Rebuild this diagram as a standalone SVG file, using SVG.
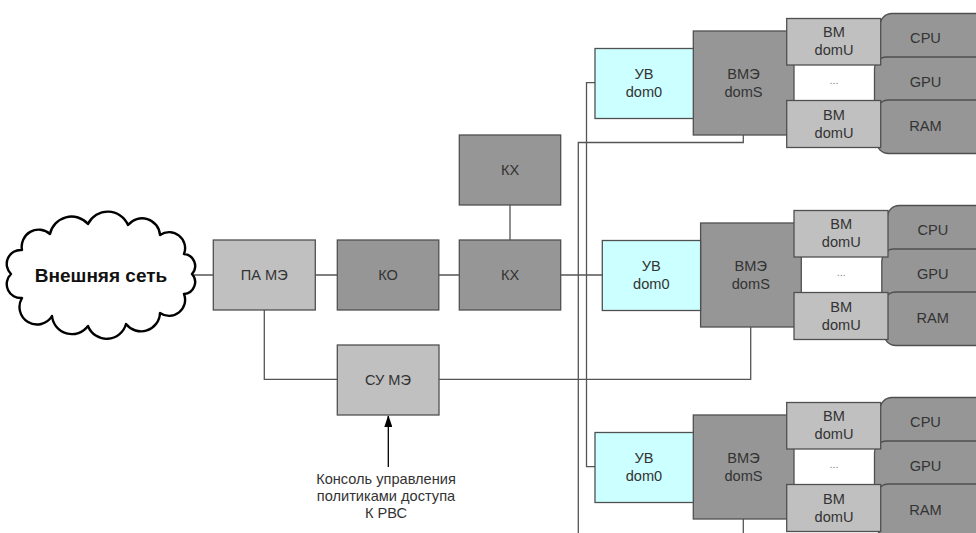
<svg xmlns="http://www.w3.org/2000/svg" width="976" height="533" viewBox="0 0 976 533">
<style>
text{font-family:"Liberation Sans",Arial,sans-serif;font-size:14.6px;fill:#333;text-anchor:middle}
.l{fill:#c0c0c0;stroke:#505050;stroke-width:1.3}
.d{fill:#969696;stroke:#505050;stroke-width:1.3}
.c{fill:#ccffff;stroke:#505050;stroke-width:1.3}
.w{fill:none;stroke:#555;stroke-width:1.3}
.dots{fill:#888;font-size:11px}
</style>
<defs>
<marker id="arr" markerWidth="12" markerHeight="8" refX="11" refY="4" orient="auto" markerUnits="userSpaceOnUse" viewBox="0 0 12 8">
<path d="M0,0 L12,4 L0,8 Z" fill="#000"/>
</marker>
</defs>
<rect width="976" height="533" fill="#fff"/>

<g id="connectors">
<path class="w" d="M190,275 H213 M315,275 H337 M439,275 H459 M510,205 V240 M561,275 H602.7"/>
<path class="w" d="M264.3,310 V379.3 H337 M439,379.3 H750.7 V327"/>
<path class="w" d="M595,82.7 H586.5 V466.7 H595"/>
<path class="w" d="M743.3,135 V142.5 H578.3 V533"/>
<path class="w" d="M743.3,519 V533"/>
<line x1="388.3" y1="467" x2="388.3" y2="416" stroke="#000" stroke-width="1.3" marker-end="url(#arr)"/>
</g>

<g id="cloud">
<path d="M11,274 A14,14 0 0 1 22,250 A17,17 0 0 1 50,234 A22,22 0 0 1 88,224 A22,22 0 0 1 128,225 A18,18 0 0 1 160,235 A16,16 0 0 1 184,254 A12,12 0 0 1 192,274 A12,12 0 0 1 184,294 A16,16 0 0 1 160,313 A19,19 0 0 1 126,324 A20,20 0 0 1 88,326 A20,20 0 0 1 52,316 A17,17 0 0 1 22,298 A14,14 0 0 1 11,274 Z" fill="#fff" stroke="#000" stroke-width="2.4" stroke-linejoin="round"/>
<text x="101" y="282" style="font-size:19px;font-weight:bold;fill:#111">Внешняя сеть</text>
</g>

<g id="pa"><rect class="l" x="213.3" y="240" width="102" height="70"/><text x="264.3" y="280">ПА МЭ</text></g>
<g id="ko"><rect class="d" x="337.3" y="240" width="101.5" height="70"/><text x="388" y="280">КО</text></g>
<g id="kx1"><rect class="d" x="459.3" y="135" width="101.4" height="70"/><text x="510" y="175">КХ</text></g>
<g id="kx2"><rect class="d" x="459.3" y="240" width="101.4" height="70"/><text x="510" y="280">КХ</text></g>
<g id="su"><rect class="l" x="337.3" y="345" width="101.7" height="70"/><text x="388" y="385">СУ МЭ</text></g>
<g id="console"><text x="386" y="484">Консоль управления</text><text x="386" y="501">политиками доступа</text><text x="386" y="518">К РВС</text></g>

<g id="host1">
<g id="h1-cpu"><rect class="d" x="880" y="13.5" width="110" height="60" rx="12"/><text x="925.5" y="43">CPU</text></g>
<g id="h1-gpu"><rect class="d" x="874.5" y="57" width="115" height="55" rx="12"/><text x="925.5" y="87">GPU</text></g>
<g id="h1-ram"><rect class="d" x="876.5" y="100" width="113" height="53.5" rx="12"/><text x="925.5" y="131">RAM</text></g>
<g id="h1-vme"><rect class="d" x="693.3" y="31" width="100.7" height="104"/><text x="743.5" y="78.5">ВМЭ</text><text x="743.5" y="96.7">domS</text></g>
<g id="h1-uv"><rect class="c" x="595" y="48.5" width="98.3" height="70"/><text x="644" y="78.5">УВ</text><text x="644" y="96.7">dom0</text></g>
<g id="h1-vm1"><rect class="l" x="786.7" y="18.5" width="94" height="46.5"/><text x="834" y="37.3">ВМ</text><text x="834" y="55">domU</text></g>
<g id="h1-dots"><text class="dots" x="834" y="84">...</text></g>
<g id="h1-vm2"><rect class="l" x="786.7" y="100.5" width="94" height="47"/><text x="834" y="120">ВМ</text><text x="834" y="137.5">domU</text></g>
</g>

<g id="host2" transform="translate(7.3,192)">
<g id="h2-cpu"><rect class="d" x="880" y="13.5" width="110" height="60" rx="12"/><text x="925.5" y="43">CPU</text></g>
<g id="h2-gpu"><rect class="d" x="874.5" y="57" width="115" height="55" rx="12"/><text x="925.5" y="87">GPU</text></g>
<g id="h2-ram"><rect class="d" x="876.5" y="100" width="113" height="53.5" rx="12"/><text x="925.5" y="131">RAM</text></g>
<g id="h2-vme"><rect class="d" x="693.3" y="31" width="100.7" height="104"/><text x="743.5" y="78.5">ВМЭ</text><text x="743.5" y="96.7">domS</text></g>
<g id="h2-uv"><rect class="c" x="595" y="48.5" width="98.3" height="70"/><text x="644" y="78.5">УВ</text><text x="644" y="96.7">dom0</text></g>
<g id="h2-vm1"><rect class="l" x="786.7" y="18.5" width="94" height="46.5"/><text x="834" y="37.3">ВМ</text><text x="834" y="55">domU</text></g>
<g id="h2-dots"><text class="dots" x="834" y="84">...</text></g>
<g id="h2-vm2"><rect class="l" x="786.7" y="100.5" width="94" height="47"/><text x="834" y="120">ВМ</text><text x="834" y="137.5">domU</text></g>
</g>

<g id="host3" transform="translate(0,384)">
<g id="h3-cpu"><rect class="d" x="880" y="13.5" width="110" height="60" rx="12"/><text x="925.5" y="43">CPU</text></g>
<g id="h3-gpu"><rect class="d" x="874.5" y="57" width="115" height="55" rx="12"/><text x="925.5" y="87">GPU</text></g>
<g id="h3-ram"><rect class="d" x="876.5" y="100" width="113" height="53.5" rx="12"/><text x="925.5" y="131">RAM</text></g>
<g id="h3-vme"><rect class="d" x="693.3" y="31" width="100.7" height="104"/><text x="743.5" y="78.5">ВМЭ</text><text x="743.5" y="96.7">domS</text></g>
<g id="h3-uv"><rect class="c" x="595" y="48.5" width="98.3" height="70"/><text x="644" y="78.5">УВ</text><text x="644" y="96.7">dom0</text></g>
<g id="h3-vm1"><rect class="l" x="786.7" y="18.5" width="94" height="46.5"/><text x="834" y="37.3">ВМ</text><text x="834" y="55">domU</text></g>
<g id="h3-dots"><text class="dots" x="834" y="84">...</text></g>
<g id="h3-vm2"><rect class="l" x="786.7" y="100.5" width="94" height="47"/><text x="834" y="120">ВМ</text><text x="834" y="137.5">domU</text></g>
</g>
</svg>
